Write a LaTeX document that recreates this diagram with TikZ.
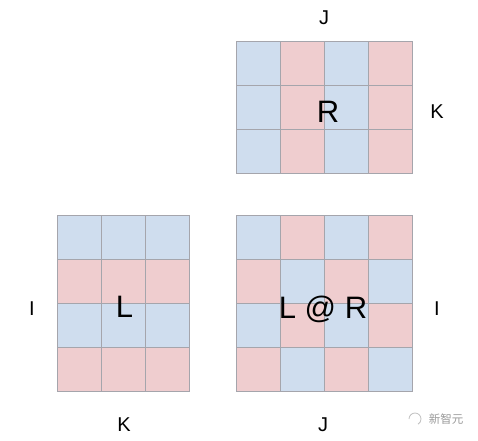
\documentclass[tikz,border=0pt]{standalone}
\usepackage{fontspec}
\setmainfont{Liberation Sans}
\newfontfamily\cjkfont{Noto Sans CJK SC}
\usetikzlibrary{positioning}

\definecolor{cellblue}{RGB}{207,221,238}
\definecolor{cellpink}{RGB}{239,205,207}
\definecolor{gridgray}{RGB}{165,165,172}

\tikzset{
  cell/.style={draw=gridgray, line width=0.9pt},
  axislabel/.style={anchor=base, font=\fontsize{20}{24}\selectfont},
  matlabel/.style={anchor=base, font=\fontsize{31}{36}\selectfont}
}

\begin{document}
\begin{tikzpicture}[x=1pt,y=-1pt]
  \useasboundingbox (0,0) rectangle (478,440);
  \def\cs{44.2}

  % R: 3 rows, 4 columns, colour by column
  \foreach \r in {0,1,2}
    \foreach \c in {0,...,3} {
      \ifodd\c \def\col{cellpink}\else \def\col{cellblue}\fi
      \filldraw[cell, fill=\col] (236+\c*\cs, 41+\r*\cs) rectangle ++(\cs,\cs);
    }

  % L: 4 rows, 3 columns, colour by row
  \foreach \r in {0,...,3}
    \foreach \c in {0,1,2} {
      \ifodd\r \def\col{cellpink}\else \def\col{cellblue}\fi
      \filldraw[cell, fill=\col] (57+\c*\cs, 215+\r*\cs) rectangle ++(\cs,\cs);
    }

  % L @ R: 4 rows, 4 columns
  \foreach \r in {0,...,3}
    \foreach \c in {0,...,3} {
      \pgfmathtruncatemacro\k{\r+\c}
      \ifodd\k \def\col{cellpink}\else \def\col{cellblue}\fi
      \filldraw[cell, fill=\col] (236+\c*\cs, 215+\r*\cs) rectangle ++(\cs,\cs);
    }

  % matrix names
  \node[matlabel] (rname) at (328,122) {R};
  \node[matlabel] (lname) at (124.5,317) {L};
  \node[matlabel] (lrname) at (323,318) {L @ R};

  % axis names
  \node[axislabel] (rtop) at (324,24) {J};
  \node[axislabel] (rright) at (437,118) {K};
  \node[axislabel] (lleft) at (32,315) {I};
  \node[axislabel] (lbottom) at (124,431) {K};
  \node[axislabel] (lrright) at (437,315) {I};
  \node[axislabel] (lrbottom) at (323,431) {J};

  % watermark
  \coordinate (logo) at (415,419);
  \draw[black!25, line width=0.8pt] (logo) ++(-6,0) arc[start angle=180, end angle=-60, radius=6pt];
  \node[text=black!40, font=\cjkfont\fontsize{11.5}{13}\selectfont] (mark) at (446,419) {新智元};
\end{tikzpicture}
\end{document}
